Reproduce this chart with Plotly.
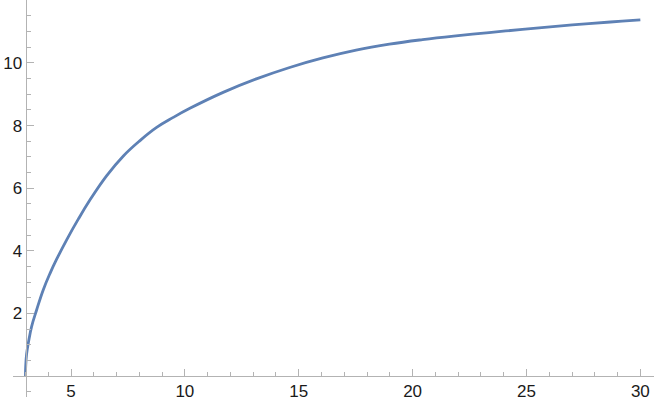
import plotly.graph_objects as go

# values
x_vals = [3, 3.01, 3.05, 3.15, 3.27, 3.49, 3.78, 4.08, 4.37, 4.81, 5.32, 5.83, 6.57,
          7.30, 8.03, 8.76, 9.49, 10.22, 11.68, 13.14, 14.6, 16.06, 17.52, 18.98,
          20.44, 21.9, 23.36, 24.82, 26.28, 27.74, 29.2, 30]
y_vals = [0, 0.30, 0.70, 1.15, 1.58, 2.11, 2.75, 3.28, 3.73, 4.35, 5.01, 5.62, 6.40,
          7.03, 7.52, 7.94, 8.26, 8.55, 9.06, 9.49, 9.855, 10.16, 10.41, 10.60,
          10.745, 10.865, 10.97, 11.072, 11.167, 11.255, 11.335, 11.375]

x_ticks = [5, 10, 15, 20, 25, 30]
y_ticks = [2, 4, 6, 8, 10]

W, H = 654, 403
axis_grey = '#b3b3b3'
font = dict(family='Liberation Sans, Arial, sans-serif', size=17, color='#1a1a1a')

fig = go.Figure()
fig.add_trace(go.Scatter(
    x=x_vals, y=y_vals,
    mode='lines',
    line=dict(color='#5E81B5', width=2.8, shape='spline', smoothing=1.2),
    hoverinfo='skip',
))

fig.update_layout(
    width=W, height=H,
    margin=dict(l=0, r=0, t=0, b=0, pad=0),
    plot_bgcolor='white',
    paper_bgcolor='white',
    showlegend=False,
    font=font,
    xaxis=dict(
        domain=[12.7 / W, 1],
        range=[2.44, 30.6],
        anchor='free',
        position=(H - 376) / H,
        automargin=False,
        showgrid=False, zeroline=False,
        showline=True, linecolor=axis_grey, linewidth=1,
        tickmode='array', tickvals=x_ticks,
        ticks='inside', ticklen=7, tickcolor=axis_grey, tickwidth=1,
        tickfont=font,
        minor=dict(dtick=1, tick0=0, ticks='inside', ticklen=4,
                   tickcolor=axis_grey, tickwidth=1, showgrid=False),
    ),
    yaxis=dict(
        domain=[6 / H, 1],
        range=[-0.67, 12.01],
        anchor='free',
        position=25.5 / W,
        automargin=False,
        showgrid=False, zeroline=False,
        showline=True, linecolor=axis_grey, linewidth=1,
        tickmode='array', tickvals=y_ticks,
        ticks='inside', ticklen=7, tickcolor=axis_grey, tickwidth=1,
        tickfont=font,
        minor=dict(dtick=0.5, tick0=0, ticks='inside', ticklen=4,
                   tickcolor=axis_grey, tickwidth=1, showgrid=False),
    ),
)

# the page body has a default 8px margin; drop it so the chart sits at 0,0
fig.write_html("out.html",
               config={'displayModeBar': False},
               post_script="document.body.style.margin='0';document.body.style.overflow='hidden';")
